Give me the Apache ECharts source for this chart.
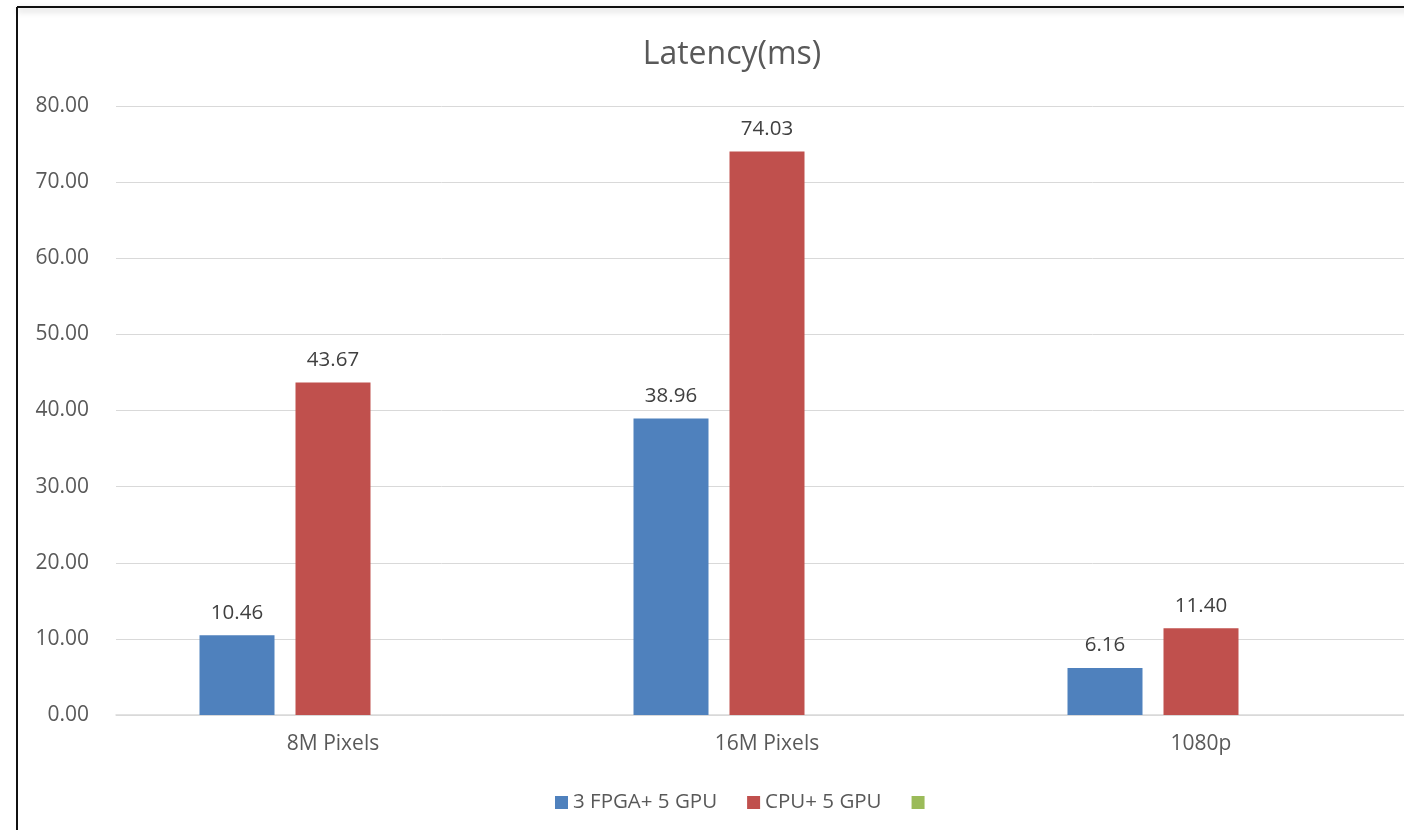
<!DOCTYPE html>
<html>
<head>
<meta charset="utf-8">
<script src="https://cdn.jsdelivr.net/npm/echarts@6/dist/echarts.min.js"></script>
<style>
  html, body { margin: 0; padding: 0; background: #fff; overflow: hidden; }
  #latencyChart { width: 1464px; height: 830px; }
</style>
</head>
<body>
<div id="latencyChart"></div>
<script>
// categories and values
var categories = ["8M Pixels", "16M Pixels", "1080p"];
var fpgaValues = [10.46, 38.96, 6.16]; // 3 FPGA+ 5 GPU
var cpuValues = [43.67, 74.03, 11.40]; // CPU+ 5 GPU
var thirdValues = []; // third series, no bars and no name
var seriesNames = ["3 FPGA+ 5 GPU", "CPU+ 5 GPU", " "];

var chart = echarts.init(document.getElementById("latencyChart"));
var font = "'Open Sans', sans-serif";

function barSeries(name, data, color) {
  return {
    name: name,
    type: "bar",
    barWidth: 75,
    barGap: "28%",
    itemStyle: { color: color },
    label: {
      show: true,
      position: "top",
      distance: 12,
      color: "#404040",
      fontSize: 20.5,
      fontFamily: font,
      formatter: function (p) {
        return p.value.toFixed(2);
      },
    },
    emphasis: { disabled: true },
    data: data,
  };
}

chart.setOption({
  animation: false,
  title: {
    text: "Latency(ms)",
    left: "center",
    top: 34,
    textStyle: { color: "#595959", fontSize: 32, fontWeight: "normal", fontFamily: font },
  },
  legend: {
    left: 550,
    top: 787,
    icon: "rect",
    itemWidth: 13,
    itemHeight: 13,
    itemGap: 30,
    data: seriesNames,
    textStyle: { color: "#595959", fontSize: 20.5, fontFamily: font },
  },
  grid: { left: 116, right: 46, top: 106, height: 609, containLabel: false },
  xAxis: {
    type: "category",
    data: categories,
    axisLine: { lineStyle: { color: "#d9d9d9", width: 1.5 } },
    axisTick: { show: false },
    axisLabel: { color: "#595959", fontSize: 21, fontFamily: font, margin: 19 },
  },
  yAxis: {
    type: "value",
    min: 0,
    max: 80,
    interval: 10,
    axisLine: { show: false },
    axisTick: { show: false },
    axisLabel: {
      color: "#595959",
      fontSize: 21,
      fontFamily: font,
      margin: 27,
      formatter: function (v) {
        return v.toFixed(2);
      },
    },
    splitLine: { lineStyle: { color: "#d9d9d9", width: 1 } },
  },
  graphic: [
    {
      type: "line",
      shape: { x1: 17, y1: 7, x2: 1464, y2: 7 },
      style: { stroke: "#111", lineWidth: 2, shadowBlur: 6, shadowColor: "rgba(0,0,0,0.25)", shadowOffsetY: 3 },
      z: 100,
    },
    {
      type: "line",
      shape: { x1: 17, y1: 7, x2: 17, y2: 830 },
      style: { stroke: "#111", lineWidth: 2 },
      z: 100,
    },
  ],
  series: [
    barSeries(seriesNames[0], fpgaValues, "#4F81BD"),
    barSeries(seriesNames[1], cpuValues, "#C0504D"),
    barSeries(seriesNames[2], thirdValues, "#9BBB59"),
  ],
});
</script>
</body>
</html>
